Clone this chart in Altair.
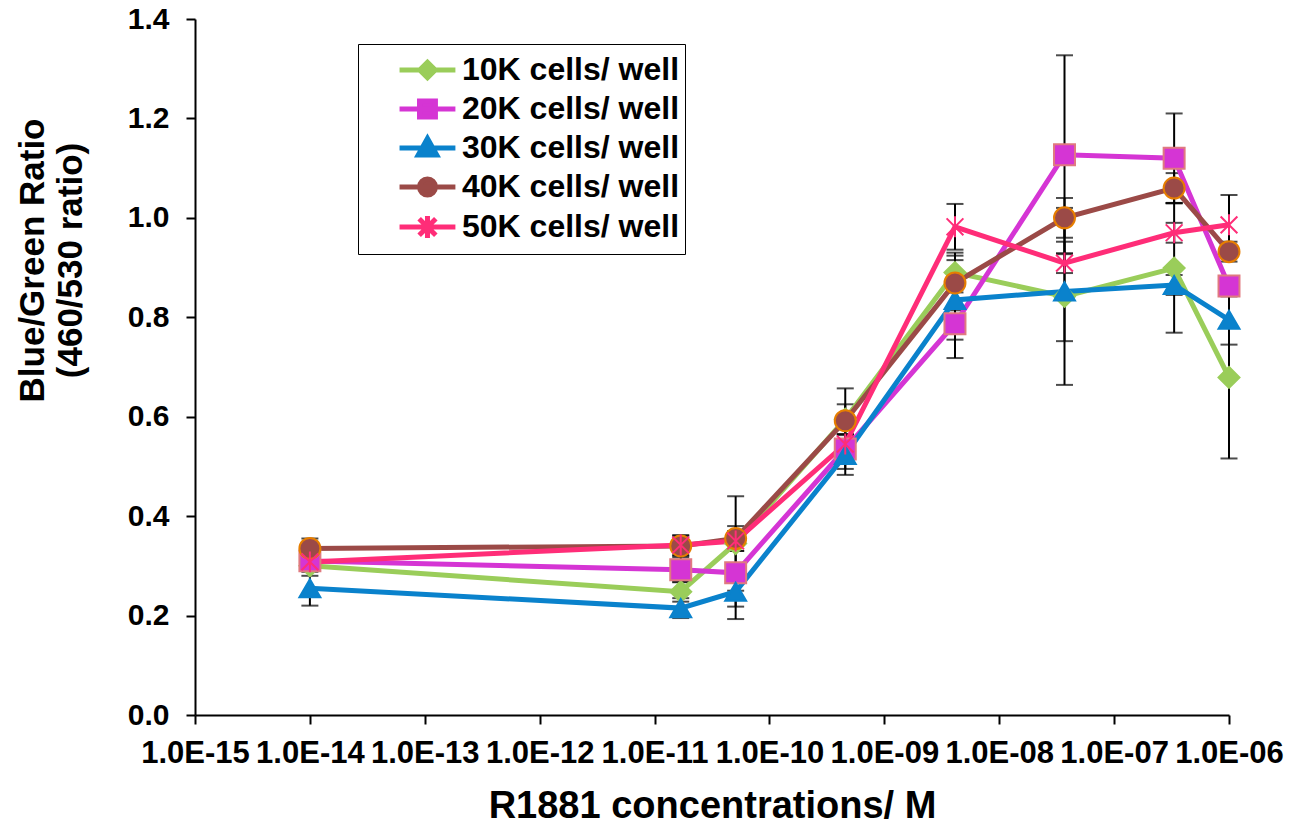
import altair as alt
import pandas as pd

# ---------------- data ----------------
conc = [1e-14, 1.69e-11, 5.08e-11, 4.57e-10, 4.12e-9, 3.7e-8, 3.33e-7, 1e-6]
series = ["10K cells/ well", "20K cells/ well", "30K cells/ well",
          "40K cells/ well", "50K cells/ well"]

r10 = [0.300, 0.248, 0.345, 0.595, 0.890, 0.842, 0.899, 0.679]
r20 = [0.310, 0.292, 0.286, 0.535, 0.787, 1.127, 1.120, 0.863]
r30 = [0.255, 0.215, 0.248, 0.523, 0.835, 0.852, 0.865, 0.795]
r40 = [0.335, 0.340, 0.355, 0.592, 0.869, 1.000, 1.060, 0.932]
r50 = [0.308, 0.342, 0.350, 0.545, 0.982, 0.909, 0.970, 0.986]

e10 = [0.020, 0.020, 0.095, 0.030, 0.040, 0.178, 0.130, 0.163]
e20 = [0.020, 0.025, 0.068, 0.040, 0.069, 0.200, 0.090, 0.020]
e30 = [0.035, 0.020, 0.055, 0.040, 0.080, 0.100, 0.020, 0.050]
e40 = [0.020, 0.020, 0.025, 0.065, 0.055, 0.040, 0.030, 0.020]
e50 = [0.020, 0.020, 0.020, 0.020, 0.046, 0.020, 0.020, 0.060]

x_ticks = [1e-15, 1e-14, 1e-13, 1e-12, 1e-11, 1e-10, 1e-9, 1e-8, 1e-7, 1e-6]
y_ticks = [0, 0.2, 0.4, 0.6, 0.8, 1.0, 1.2, 1.4]

line_colors = ["#9ACD5A", "#D535D4", "#0A82CC", "#9B4A47", "#FF2D78"]
fill_colors = ["#9ACD5A", "#D535D4", "#0A82CC", "#9B4A47", "#FF2D78"]
edge_colors = ["#9ACD5A", "#E07A80", "#0A82CC", "#E67E00", "#FF2D78"]

asterisk = "M-0.8,-0.8L0.8,0.8M-0.8,0.8L0.8,-0.8M0,-1L0,1"
plot_shapes = ["diamond", "square", "triangle-up", "circle", asterisk]

# legend symbols: line segment plus marker, shifted to the right of the symbol slot
seg = "M0.84,0L3.86,0"
legend_shapes = [
    seg + "M1.93,0L2.35,-0.42L2.77,0L2.35,0.42Z",
    seg + "M1.92,-0.43L2.78,-0.43L2.78,0.43L1.92,0.43Z",
    seg + "M2.35,-0.52L2.85,0.38L1.85,0.38Z",
    seg + "M1.92,0A0.43,0.43 0 1,0 2.78,0A0.43,0.43 0 1,0 1.92,0Z",
    seg + "M1.9,-0.45L2.8,0.45M1.9,0.45L2.8,-0.45M2.35,-0.6L2.35,0.6",
]

rows = []
for name, vals, errs in zip(series, [r10, r20, r30, r40, r50], [e10, e20, e30, e40, e50]):
    for c, v, e in zip(conc, vals, errs):
        rows.append({"conc": c, "series": name, "ratio": v, "lo": v - e, "hi": v + e})
df = pd.DataFrame(rows)

FONT = "Liberation Sans"

x_enc = alt.X(
    "conc:Q",
    scale=alt.Scale(type="log", domain=[1e-15, 1e-6], nice=False),
    axis=alt.Axis(
        values=x_ticks,
        labelExpr="'1.0E-' + (round(-log(datum.value)/LN10) < 10 ? '0' : '') + round(-log(datum.value)/LN10)",
        title="R1881 concentrations/ M",
        labelOverlap=False,
        labelFlush=False,
        labelFontSize=31,
        labelPadding=14,
        titlePadding=19,
        titleFontSize=38,
    ),
)
y_scale = alt.Scale(domain=[0, 1.4], nice=False, zero=True)
y_axis = alt.Axis(
    values=y_ticks,
    format=".1f",
    title=["Blue/Green Ratio", "(460/530 ratio)"],
    titleX=-180,
    titleY=241,
    titleBaseline="top",
    titleLineHeight=38,
    titleFontSize=35,
    labelFontSize=30,
    labelPadding=17,
)

base = alt.Chart(df)

err = base.mark_rule(color="black", strokeWidth=2).encode(
    x=x_enc,
    y=alt.Y("lo:Q", scale=y_scale, axis=y_axis),
    y2="hi:Q",
)

caps = base.transform_fold(["lo", "hi"], as_=["end", "val"]).mark_tick(
    color="black", orient="horizontal", size=17, thickness=2
).encode(
    x=alt.X("conc:Q"),
    y=alt.Y("val:Q"),
)

lines = base.mark_line(strokeWidth=5).encode(
    x=alt.X("conc:Q"),
    y=alt.Y("ratio:Q"),
    color=alt.Color("series:N", scale=alt.Scale(domain=series, range=line_colors), legend=None),
    order=alt.Order("conc:Q"),
)

points = base.mark_point(filled=True, size=440, strokeWidth=2, opacity=1).encode(
    x=alt.X("conc:Q"),
    y=alt.Y("ratio:Q"),
    fill=alt.Fill("series:N", scale=alt.Scale(domain=series, range=fill_colors), legend=None),
    stroke=alt.Stroke("series:N", scale=alt.Scale(domain=series, range=edge_colors), legend=None),
    shape=alt.Shape("series:N", scale=alt.Scale(domain=series, range=plot_shapes), legend=None),
)

leg = alt.Legend(
    orient="none",
    legendX=163,
    legendY=25,
    title=None,
    labelFont=FONT,
    labelFontSize=32,
    labelFontWeight="bold",
    labelColor="black",
    labelLimit=600,
    symbolSize=1369,
    symbolStrokeWidth=5,
    strokeColor="black",
    fillColor="white",
    padding=5,
    rowPadding=0,
    labelOffset=57,
)

legend_layer = base.transform_filter("false").mark_point(filled=True, size=1369, strokeWidth=5, opacity=1).encode(
    x=alt.X("conc:Q"),
    y=alt.Y("ratio:Q"),
    fill=alt.Fill("series:N", scale=alt.Scale(domain=series, range=fill_colors), legend=leg),
    stroke=alt.Stroke("series:N", scale=alt.Scale(domain=series, range=line_colors), legend=leg),
    shape=alt.Shape("series:N", scale=alt.Scale(domain=series, range=legend_shapes), legend=leg),
)

chart = alt.layer(err, caps, lines, points, legend_layer).resolve_scale(
    fill="independent", stroke="independent", shape="independent"
).properties(
    width=1034,
    height=696,
    padding={"left": 195, "top": 19, "right": 63, "bottom": 110},
    autosize=alt.AutoSizeParams(type="none"),
    background="white",
).configure_view(
    stroke=None
).configure_axis(
    labelFont=FONT,
    labelFontWeight="bold",
    labelColor="black",
    titleFont=FONT,
    titleFontWeight="bold",
    titleColor="black",
    domainColor="black",
    domainWidth=2,
    tickColor="black",
    tickWidth=2,
    tickSize=9,
    grid=False,
)

chart.save("out.html", embed_options={"renderer": "svg", "actions": False})
